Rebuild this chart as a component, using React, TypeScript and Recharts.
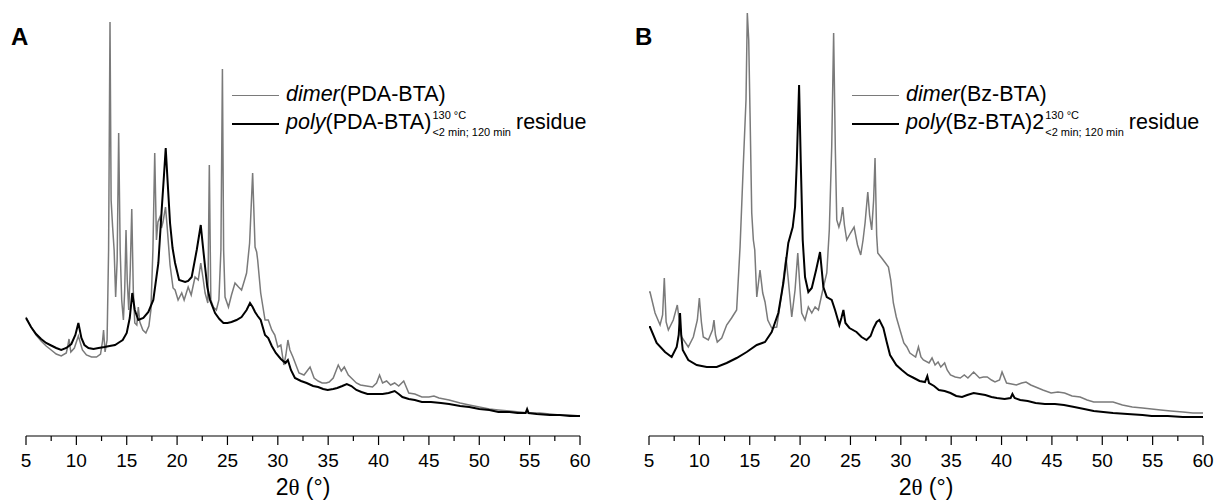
import React from 'react';
import { LineChart, Line, XAxis, YAxis, Legend, Label } from 'recharts';

type Pt = [number, number];

// 2θ (°), intensity (a.u.)
const dimerPDA: Pt[] = [
  [5, 119], [5.5, 109], [6, 101], [6.5, 95], [7, 90], [7.5, 86], [8, 82], [8.5, 80], [9, 83], [9.15, 90],
  [9.27, 97], [9.45, 84], [9.8, 88], [10.2, 100], [10.6, 86], [11, 81], [11.5, 79], [12, 79], [12.4, 82], [12.6, 95],
  [12.7, 106], [12.85, 84], [13.05, 96], [13.2, 186], [13.34, 414], [13.45, 236], [13.6, 209], [13.75, 186], [13.9, 139], [14.05, 176],
  [14.2, 303], [14.35, 186], [14.5, 136], [14.67, 116], [14.8, 146], [14.93, 206], [15.05, 156], [15.2, 126], [15.35, 166], [15.5, 227],
  [15.65, 146], [15.8, 113], [16, 111], [16.15, 129], [16.3, 114], [16.6, 106], [16.9, 103], [17.2, 110], [17.4, 126], [17.6, 186],
  [17.78, 283], [17.95, 196], [18.1, 214], [18.3, 219], [18.45, 208], [18.6, 214], [18.85, 229], [19, 211], [19.3, 171], [19.6, 148],
  [19.8, 146], [20.1, 136], [20.46, 143], [20.7, 136], [21.1, 149], [21.4, 141], [21.78, 159], [22.1, 156], [22.35, 173], [22.6, 156],
  [22.78, 143], [23.05, 133], [23.2, 271], [23.35, 136], [23.6, 129], [23.9, 126], [24.15, 136], [24.35, 186], [24.5, 367], [24.62, 186],
  [24.76, 139], [25.1, 129], [25.4, 141], [25.75, 153], [26.1, 149], [26.4, 146], [26.7, 156], [26.9, 163], [27.2, 193], [27.5, 263],
  [27.74, 189], [27.9, 184], [28, 176], [28.3, 143], [28.73, 116], [29.05, 116], [29.4, 106], [29.7, 101], [30, 89], [30.3, 91],
  [30.6, 71], [30.8, 81], [31, 96], [31.2, 86], [31.5, 79], [32.1, 63], [32.6, 61], [33.2, 69], [33.6, 58], [34, 55],
  [34.4, 53], [34.8, 53], [35.1, 54], [35.5, 58], [36, 71], [36.3, 65], [36.6, 69], [37, 61], [37.3, 58], [37.8, 53],
  [38.2, 51], [38.8, 50], [39.4, 49], [39.8, 53], [40.1, 61], [40.4, 53], [40.8, 55], [41.2, 51], [41.6, 53], [42, 50],
  [42.5, 55], [43, 43], [43.6, 42], [44.3, 39], [45, 39], [45.5, 40], [46, 38], [47, 36], [48.1, 33], [49, 31],
  [50, 29], [51, 27], [51.9, 26], [53, 25], [54, 24], [55, 23], [56, 23], [57, 22], [58, 21], [59, 21], [60, 20],
];

const polyPDA: Pt[] = [
  [5, 118], [5.5, 109], [6, 102], [6.5, 97], [7, 93], [7.4, 91], [8, 88], [8.5, 86], [9, 88], [9.5, 92],
  [9.9, 101], [10.2, 113], [10.5, 98], [10.8, 91], [11.2, 88], [11.7, 87], [12.2, 88], [12.8, 89], [13.3, 90], [13.84, 91],
  [14.3, 94], [14.6, 96], [15, 103], [15.3, 118], [15.55, 143], [15.8, 126], [16.15, 116], [16.65, 118], [17.15, 124], [17.64, 136],
  [18.14, 173], [18.47, 226], [18.7, 261], [18.87, 288], [19.05, 256], [19.3, 213], [19.55, 188], [19.8, 173], [20.2, 156], [20.8, 154],
  [21.1, 155], [21.45, 159], [21.95, 186], [22.35, 211], [22.55, 191], [22.78, 169], [23, 149], [23.27, 136], [23.77, 123], [24.2, 117],
  [24.6, 113], [25, 113], [25.4, 114], [25.9, 116], [26.4, 119], [26.9, 126], [27.24, 133], [27.5, 129], [27.74, 124], [28, 120],
  [28.3, 116], [28.73, 101], [29.05, 98], [29.4, 90], [29.8, 83], [30.3, 77], [30.76, 73], [31, 76], [31.3, 66], [31.7, 58],
  [32.3, 55], [32.86, 53], [33.5, 50], [34, 49], [34.5, 47], [34.95, 46], [35.5, 47], [35.9, 48], [36.4, 50], [36.85, 52],
  [37.3, 50], [37.8, 46], [38.3, 44], [38.9, 42], [39.6, 42], [40.4, 42], [41, 43], [41.6, 45], [42, 42], [42.37, 39],
  [43, 37], [43.6, 36], [44.3, 34], [45.2, 34], [46.2, 33], [47, 32], [48.1, 30], [49, 29], [50, 27], [51, 26],
  [51.9, 24], [53, 24], [53.8, 23], [54.6, 23], [54.75, 27], [54.9, 23], [55.7, 22], [57, 21], [58, 21], [59, 20], [60, 20],
];

const dimerBz: Pt[] = [
  [5, 144], [5.1, 144], [5.6, 123], [6.1, 111], [6.35, 121], [6.52, 158], [6.7, 114], [6.92, 106], [7.41, 116], [7.81, 131],
  [8, 116], [8.24, 99], [8.9, 89], [9.4, 99], [9.8, 116], [10, 138], [10.2, 114], [10.39, 99], [10.89, 96], [11.3, 106],
  [11.45, 116], [11.6, 101], [11.78, 94], [12.22, 98], [12.71, 111], [13.2, 118], [13.7, 126], [14.04, 189], [14.37, 273], [14.63, 336],
  [14.76, 423], [14.9, 396], [15.03, 323], [15.2, 223], [15.36, 196], [15.5, 186], [15.7, 139], [16.02, 166], [16.29, 143], [16.52, 134],
  [16.79, 116], [17.18, 108], [17.68, 109], [18.18, 143], [18.6, 179], [18.83, 156], [19.17, 119], [19.5, 146], [19.77, 183], [20, 146],
  [20.16, 123], [20.49, 116], [20.82, 129], [21.16, 123], [21.49, 129], [21.82, 126], [22.25, 146], [22.65, 163], [22.9, 206], [23.14, 289],
  [23.33, 403], [23.5, 286], [23.64, 216], [23.85, 209], [24.05, 216], [24.23, 229], [24.4, 211], [24.63, 196], [25, 203], [25.36, 209],
  [25.7, 191], [26.02, 181], [26.25, 196], [26.45, 213], [26.72, 244], [26.9, 221], [27.11, 206], [27.3, 236], [27.44, 278], [27.6, 201],
  [27.71, 183], [28.1, 178], [28.4, 174], [28.77, 169], [29, 156], [29.26, 133], [29.55, 119], [29.92, 106], [30.3, 93], [30.6, 89],
  [30.9, 83], [31.47, 79], [31.75, 89], [32, 79], [32.24, 76], [32.8, 73], [33.1, 78], [33.4, 71], [33.7, 74], [33.97, 69],
  [34.35, 73], [34.6, 66], [34.93, 61], [35.4, 59], [35.9, 58], [36.3, 61], [36.66, 58], [37.23, 64], [37.81, 58], [38.2, 59],
  [38.58, 59], [39, 56], [39.35, 54], [39.8, 56], [40.05, 64], [40.5, 53], [41, 52], [41.47, 51], [42, 53], [42.43, 54],
  [42.9, 51], [43.38, 49], [44.1, 46], [44.92, 43], [45.6, 44], [46.26, 43], [47, 40], [47.8, 39], [48.5, 36], [49.15, 34],
  [50, 34], [51.07, 34], [52, 31], [52.98, 29], [54, 28], [54.9, 27], [55.8, 26], [56.8, 25], [58, 24], [59, 23], [60, 23],
];

const polyBz: Pt[] = [
  [5, 109], [5.1, 109], [5.76, 93], [6.59, 84], [7.25, 79], [7.75, 89], [7.95, 101], [8.08, 123], [8.2, 101], [8.35, 86],
  [8.9, 76], [9.74, 71], [10.73, 69], [11.72, 69], [12.71, 73], [13.7, 78], [14.7, 84], [15.7, 91], [16.52, 94], [17.18, 104],
  [17.84, 123], [18.34, 153], [18.83, 193], [19.27, 209], [19.5, 229], [19.67, 273], [19.9, 351], [20.07, 273], [20.26, 196], [20.49, 159],
  [20.82, 144], [21.16, 148], [21.59, 166], [21.98, 184], [22.31, 149], [22.65, 139], [23.14, 136], [23.47, 126], [23.9, 111], [24.1, 118],
  [24.3, 126], [24.5, 113], [24.9, 108], [25.6, 104], [26.1, 99], [26.6, 96], [27, 100], [27.3, 108], [27.6, 114], [27.87, 116],
  [28.27, 108], [28.6, 94], [28.93, 81], [29.55, 71], [30.1, 66], [30.7, 61], [31.3, 58], [31.86, 55], [32.4, 54], [32.63, 60],
  [32.8, 53], [33.3, 50], [33.78, 46], [34.35, 45], [34.93, 43], [35.5, 40], [36.08, 39], [36.6, 41], [37.23, 43], [37.8, 42],
  [38.39, 41], [39, 39], [39.54, 38], [40.3, 37], [40.9, 38], [41.08, 42], [41.3, 38], [41.85, 36], [42.6, 35], [43.38, 33],
  [44.3, 32], [45.3, 32], [46.2, 31], [47.22, 29], [48.2, 27], [49.15, 25], [50.1, 24], [51.07, 23], [52.5, 22], [54, 21],
  [54.9, 20], [56.5, 20], [58, 19], [60, 19],
];

const xTicks = [5, 7.5, 10, 12.5, 15, 17.5, 20, 22.5, 25, 27.5, 30, 32.5, 35, 37.5, 40, 42.5, 45, 47.5, 50, 52.5, 55, 57.5, 60];

const FONT = '"Liberation Sans", Arial, sans-serif';
const GRAY = '#7a7a7a';

const toRows = (pts: Pt[]) => pts.map(([t, v]) => ({ t, v }));

const AxisTick = (props: any) => {
  const { x, y, payload } = props;
  const major = payload.value % 5 === 0;
  return (
    <g>
      <line x1={x} x2={x} y1={y} y2={y + (major ? 9 : 5)} stroke="#000" strokeWidth={1.2} />
      {major && (
        <text x={x} y={y + 31} textAnchor="middle" fontSize={19} fontFamily={FONT} fill="#000">
          {payload.value}
        </text>
      )}
    </g>
  );
};

const AxisTitle = (props: any) => {
  const vb = props.viewBox;
  return (
    <text x={vb.x + vb.width / 2} y={vb.y + 59} textAnchor="middle" fontSize={23} fontFamily={FONT} fill="#000">
      2<tspan fontFamily='"Liberation Serif", serif'>θ</tspan> (°)
    </text>
  );
};

const LegendBox = ({ compound, suffix }: { compound: string; suffix: string }) => (
  <div style={{ position: 'relative', width: 360, height: 62, fontFamily: FONT, color: '#000' }}>
    <div style={{ position: 'absolute', left: 0, top: 14.8, width: 47, height: 1.5, background: GRAY }} />
    <div style={{ position: 'absolute', left: 0, top: 42.6, width: 47, height: 2, background: '#000' }} />
    <div style={{ position: 'absolute', left: 54, top: 3.8, fontSize: 21.5, lineHeight: '21.5px', whiteSpace: 'nowrap' }}>
      <i>dimer</i>({compound})
    </div>
    <div style={{ position: 'absolute', left: 54, top: 31.8, fontSize: 21.5, lineHeight: '21.5px', whiteSpace: 'nowrap' }}>
      <i>poly</i>({compound}){suffix}
      <span style={{ display: 'inline-flex', flexDirection: 'column', fontSize: 11, lineHeight: '11px', marginLeft: 1 }}>
        <span style={{ position: 'relative', top: -10 }}>130 °C</span>
        <span style={{ position: 'relative', top: -4 }}>&lt;2 min; 120 min</span>
      </span>
      <span style={{ marginLeft: 5 }}>residue</span>
    </div>
  </div>
);

interface PanelProps {
  letter: string;
  left: number;
  plotLeft: number;
  plotRight: number;
  dimer: Pt[];
  poly: Pt[];
  compound: string;
  suffix: string;
  legendLeft: number;
}

const W = 608;
const H = 501;

function Panel({ letter, left, plotLeft, plotRight, dimer, poly, compound, suffix, legendLeft }: PanelProps) {
  return (
    <div style={{ position: 'absolute', left, top: 0, width: W, height: H }}>
      <LineChart
        width={W}
        height={H}
        margin={{ top: 13, right: W - plotRight, bottom: 0, left: plotLeft }}
      >
        <XAxis
          dataKey="t"
          type="number"
          domain={[5, 60]}
          ticks={xTicks}
          interval={0}
          height={65}
          tickSize={0}
          tickMargin={0}
          tickLine={false}
          axisLine={{ stroke: '#000', strokeWidth: 1.2 }}
          tick={<AxisTick />}
        >
          <Label content={<AxisTitle />} />
        </XAxis>
        <YAxis hide type="number" domain={[0, 423]} allowDataOverflow />
        <Legend
          layout="vertical"
          align="center"
          verticalAlign="middle"
          wrapperStyle={{ left: legendLeft, top: 80, width: 360, height: 62 }}
          content={() => <LegendBox compound={compound} suffix={suffix} />}
        />
        <Line
          data={toRows(dimer)}
          dataKey="v"
          type="linear"
          stroke={GRAY}
          strokeWidth={1.5}
          dot={false}
          activeDot={false}
          isAnimationActive={false}
        />
        <Line
          data={toRows(poly)}
          dataKey="v"
          type="linear"
          stroke="#000"
          strokeWidth={2}
          dot={false}
          activeDot={false}
          isAnimationActive={false}
        />
      </LineChart>
      <div
        style={{
          position: 'absolute',
          left: letter === 'A' ? 11 : 26,
          top: 24.7,
          fontFamily: FONT,
          fontWeight: 'bold',
          fontSize: 24,
          lineHeight: '24px',
        }}
      >
        {letter}
      </div>
    </div>
  );
}

export default function App() {
  return (
    <div style={{ position: 'absolute', left: 0, top: 0, width: 1217, height: 501, background: '#fff' }}>
      <Panel
        letter="A"
        left={0}
        plotLeft={26}
        plotRight={580}
        dimer={dimerPDA}
        poly={polyPDA}
        compound="PDA-BTA"
        suffix=""
        legendLeft={232}
      />
      <Panel
        letter="B"
        left={609}
        plotLeft={40}
        plotRight={594}
        dimer={dimerBz}
        poly={polyBz}
        compound="Bz-BTA"
        suffix="2"
        legendLeft={243}
      />
    </div>
  );
}
